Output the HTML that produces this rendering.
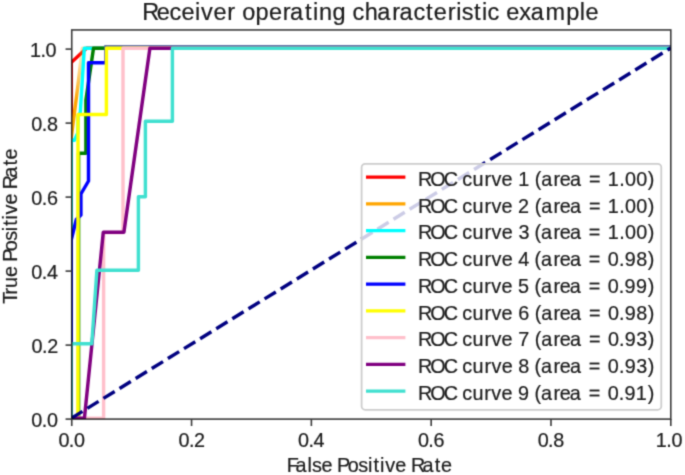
<!DOCTYPE html>
<html><head><meta charset="utf-8"><title>ROC</title><style>
html,body{margin:0;padding:0;background:#fff;}
body{width:685px;height:475px;overflow:hidden;}
svg{display:block;}
text{font-family:"Liberation Sans",sans-serif;}
</style></head><body>
<svg width="685" height="475" viewBox="0 0 685 475">
<defs>
<linearGradient id="og" gradientUnits="userSpaceOnUse" x1="0" y1="100" x2="0" y2="60"><stop offset="0" stop-color="#ffa500"/><stop offset="1" stop-color="#ffa500" stop-opacity="0.3"/></linearGradient>
<clipPath id="ax"><rect x="71.75" y="29.94" width="599.05" height="389.16"/></clipPath>
<filter id="soft" x="0" y="0" width="100%" height="100%" filterUnits="userSpaceOnUse" color-interpolation-filters="sRGB"><feConvolveMatrix order="5" kernelMatrix="0.00001 0.00042 0.00170 0.00042 0.00001 0.00042 0.02740 0.10988 0.02740 0.00042 0.00170 0.10988 0.44065 0.10988 0.00170 0.00042 0.02740 0.10988 0.02740 0.00042 0.00001 0.00042 0.00170 0.00042 0.00001" edgeMode="duplicate"/></filter>
</defs>
<rect x="0" y="0" width="685" height="475" fill="#fff"/>
<g filter="url(#soft)">
<rect x="0" y="0" width="685" height="475" fill="#fff"/>

<g clip-path="url(#ax)" fill="none" stroke-width="3.45" stroke-linejoin="round" stroke-linecap="square">
<polyline points="71.20,418.30 71.20,62.60 86.50,48.20 670.80,48.20" stroke="#ff0000"/>
<polyline points="71.20,418.30 71.20,138.00 77.60,88.00 80.60,62.00 82.30,48.20 670.80,48.20" stroke="url(#og)"/>
<polyline points="71.20,418.30 71.20,140.30 74.40,140.30 77.80,133.00 78.20,116.00 80.30,112.50 84.30,48.20 670.80,48.20" stroke="#00ffff"/>
<polyline points="71.20,418.30 78.60,418.30 78.60,153.30 85.90,153.30 85.90,100.00 93.50,48.20 670.80,48.20" stroke="#008000"/>
<polyline points="71.20,418.30 71.20,240.00 76.30,219.50 80.90,215.00 80.90,194.00 88.50,181.00 88.50,62.80 106.00,62.80 106.00,48.20 670.80,48.20" stroke="#0000ff"/>
<polyline points="106.00,46.70 670.80,46.70" stroke="#6070a8"/>
<polyline points="71.20,418.30 78.00,418.30 78.00,114.50 106.40,114.50 106.40,48.20 670.80,48.20" stroke="#ffff00"/>
<polyline points="71.20,418.30 103.60,418.30 103.60,232.50 123.00,232.50 123.00,48.20 670.80,48.20" stroke="#ffc0cb"/>
<polyline points="71.20,418.30 84.40,418.30 103.30,232.20 123.90,232.20 149.90,48.20 670.80,48.20" stroke="#800080"/>
<polyline points="71.20,418.30 71.20,343.80 91.80,343.80 96.90,270.30 138.40,270.30 138.40,196.70 145.40,196.70 145.40,121.20 172.40,121.20 172.40,48.20 670.80,48.20" stroke="#40e0d0"/>
<line x1="71.2" y1="418.3" x2="670.8" y2="48.0" stroke="#000080" stroke-dasharray="13.22 5.72" stroke-linecap="butt"/>
</g>
<rect x="361.6" y="163.9" width="299.70" height="245.90" rx="3.6" fill="#fff" fill-opacity="0.8" stroke="#cccccc" stroke-width="1.78"/>
<line x1="366.0" y1="177.10" x2="405.4" y2="177.10" stroke="#ff0000" stroke-width="3.45" stroke-linecap="butt"/>
<text x="417.96 430.24 443.70 457.08 462.30 472.49 484.44 491.44 501.60 512.60 518.14 529.54 534.71 541.21 553.55 559.80 569.97 581.71 588.90 602.22 607.77 619.16 625.04 636.19 647.86" y="185.90" font-size="19.8" fill="#1c1c1c" stroke="#1c1c1c" stroke-width="0.22">ROC curve 1 (area = 1.00)</text>
<line x1="366.0" y1="203.85" x2="405.4" y2="203.85" stroke="#ffa500" stroke-width="3.45" stroke-linecap="butt"/>
<text x="417.96 430.24 443.70 457.08 462.30 472.49 484.44 491.44 501.60 512.60 518.01 529.54 534.71 541.21 553.55 559.80 569.97 581.71 588.90 602.22 607.77 619.16 625.04 636.19 647.86" y="212.65" font-size="19.8" fill="#1c1c1c" stroke="#1c1c1c" stroke-width="0.22">ROC curve 2 (area = 1.00)</text>
<line x1="366.0" y1="230.60" x2="405.4" y2="230.60" stroke="#00ffff" stroke-width="3.45" stroke-linecap="butt"/>
<text x="417.97 430.25 443.73 457.12 462.35 472.54 484.50 491.51 501.69 512.69 518.38 529.42 534.60 541.10 553.46 559.71 569.89 581.65 588.84 602.18 607.73 619.13 625.02 636.18 647.86" y="239.40" font-size="19.8" fill="#1c1c1c" stroke="#1c1c1c" stroke-width="0.22">ROC curve 3 (area = 1.00)</text>
<line x1="366.0" y1="257.35" x2="405.4" y2="257.35" stroke="#008000" stroke-width="3.45" stroke-linecap="butt"/>
<text x="417.97 430.25 443.73 457.12 462.35 472.54 484.50 491.51 501.69 512.69 518.35 529.42 534.60 541.10 553.46 559.71 569.89 581.65 588.84 602.18 607.84 618.91 624.74 636.18 647.86" y="266.15" font-size="19.8" fill="#1c1c1c" stroke="#1c1c1c" stroke-width="0.22">ROC curve 4 (area = 0.98)</text>
<line x1="366.0" y1="284.10" x2="405.4" y2="284.10" stroke="#0000ff" stroke-width="3.45" stroke-linecap="butt"/>
<text x="417.96 430.22 443.67 457.04 462.26 472.43 484.37 491.36 501.52 512.51 518.08 529.43 534.60 541.08 553.42 559.66 569.82 581.55 588.73 602.05 607.69 618.74 624.56 635.92 647.86" y="292.90" font-size="19.8" fill="#1c1c1c" stroke="#1c1c1c" stroke-width="0.22">ROC curve 5 (area = 0.99)</text>
<line x1="366.0" y1="310.85" x2="405.4" y2="310.85" stroke="#ffff00" stroke-width="3.45" stroke-linecap="butt"/>
<text x="417.96 430.24 443.70 457.08 462.30 472.49 484.44 491.44 501.60 512.60 518.25 529.54 534.71 541.21 553.55 559.80 569.97 581.71 588.90 602.22 607.88 618.94 624.76 636.19 647.86" y="319.65" font-size="19.8" fill="#1c1c1c" stroke="#1c1c1c" stroke-width="0.22">ROC curve 6 (area = 0.98)</text>
<line x1="366.0" y1="337.60" x2="405.4" y2="337.60" stroke="#ffc0cb" stroke-width="3.45" stroke-linecap="butt"/>
<text x="417.96 430.24 443.70 457.08 462.30 472.49 484.44 491.44 501.60 512.60 518.21 529.54 534.71 541.21 553.55 559.80 569.97 581.71 588.90 602.22 607.88 618.94 624.76 636.22 647.86" y="346.40" font-size="19.8" fill="#1c1c1c" stroke="#1c1c1c" stroke-width="0.22">ROC curve 7 (area = 0.93)</text>
<line x1="366.0" y1="364.35" x2="405.4" y2="364.35" stroke="#800080" stroke-width="3.45" stroke-linecap="butt"/>
<text x="417.97 430.25 443.73 457.12 462.35 472.54 484.50 491.51 501.69 512.69 518.35 529.42 534.60 541.10 553.46 559.71 569.89 581.65 588.84 602.18 607.84 618.91 624.74 636.21 647.86" y="373.15" font-size="19.8" fill="#1c1c1c" stroke="#1c1c1c" stroke-width="0.22">ROC curve 8 (area = 0.93)</text>
<line x1="366.0" y1="391.10" x2="405.4" y2="391.10" stroke="#40e0d0" stroke-width="3.45" stroke-linecap="butt"/>
<text x="417.96 430.22 443.67 457.04 462.26 472.43 484.37 491.36 501.52 512.51 518.09 529.43 534.60 541.08 553.42 559.66 569.82 581.55 588.73 602.05 607.69 618.74 624.56 635.87 647.86" y="399.90" font-size="19.8" fill="#1c1c1c" stroke="#1c1c1c" stroke-width="0.22">ROC curve 9 (area = 0.91)</text>
<rect x="71.75" y="29.94" width="599.05" height="389.16" fill="none" stroke="#000" stroke-opacity="0.77" stroke-width="1.6"/>
<line x1="71.75" y1="419.1" x2="71.75" y2="426.00" stroke="#3a3a3a" stroke-width="1.6"/>
<text x="58.47 68.85 74.02" y="446.50" font-size="19.8" fill="#1c1c1c" stroke="#1c1c1c" stroke-width="0.22">0.0</text>
<line x1="191.56" y1="419.1" x2="191.56" y2="426.00" stroke="#3a3a3a" stroke-width="1.6"/>
<text x="178.38 188.93 194.08" y="446.50" font-size="19.8" fill="#1c1c1c" stroke="#1c1c1c" stroke-width="0.22">0.2</text>
<line x1="311.37" y1="419.1" x2="311.37" y2="426.00" stroke="#3a3a3a" stroke-width="1.6"/>
<text x="298.06 308.38 313.51" y="446.50" font-size="19.8" fill="#1c1c1c" stroke="#1c1c1c" stroke-width="0.22">0.4</text>
<line x1="431.18" y1="419.1" x2="431.18" y2="426.00" stroke="#3a3a3a" stroke-width="1.6"/>
<text x="417.89 428.25 433.40" y="446.50" font-size="19.8" fill="#1c1c1c" stroke="#1c1c1c" stroke-width="0.22">0.6</text>
<line x1="550.99" y1="419.1" x2="550.99" y2="426.00" stroke="#3a3a3a" stroke-width="1.6"/>
<text x="537.71 548.10 553.29" y="446.50" font-size="19.8" fill="#1c1c1c" stroke="#1c1c1c" stroke-width="0.22">0.8</text>
<line x1="670.80" y1="419.1" x2="670.80" y2="426.00" stroke="#3a3a3a" stroke-width="1.6"/>
<text x="655.73 666.34 671.42" y="446.50" font-size="19.8" fill="#1c1c1c" stroke="#1c1c1c" stroke-width="0.22">1.0</text>
<line x1="65.55" y1="419.10" x2="71.75" y2="419.10" stroke="#3a3a3a" stroke-width="1.6"/>
<text x="31.35 41.79 47.04" y="427.40" font-size="19.8" fill="#1c1c1c" stroke="#1c1c1c" stroke-width="0.22">0.0</text>
<line x1="65.55" y1="345.10" x2="71.75" y2="345.10" stroke="#3a3a3a" stroke-width="1.6"/>
<text x="31.45 42.07 47.28" y="353.40" font-size="19.8" fill="#1c1c1c" stroke="#1c1c1c" stroke-width="0.22">0.2</text>
<line x1="65.55" y1="271.10" x2="71.75" y2="271.10" stroke="#3a3a3a" stroke-width="1.6"/>
<text x="31.32 41.71 46.90" y="279.40" font-size="19.8" fill="#1c1c1c" stroke="#1c1c1c" stroke-width="0.22">0.4</text>
<line x1="65.55" y1="197.10" x2="71.75" y2="197.10" stroke="#3a3a3a" stroke-width="1.6"/>
<text x="31.34 41.77 46.98" y="205.40" font-size="19.8" fill="#1c1c1c" stroke="#1c1c1c" stroke-width="0.22">0.6</text>
<line x1="65.55" y1="123.10" x2="71.75" y2="123.10" stroke="#3a3a3a" stroke-width="1.6"/>
<text x="31.36 41.81 47.06" y="131.40" font-size="19.8" fill="#1c1c1c" stroke="#1c1c1c" stroke-width="0.22">0.8</text>
<line x1="65.55" y1="49.10" x2="71.75" y2="49.10" stroke="#3a3a3a" stroke-width="1.6"/>
<text x="29.90 40.45 45.46" y="57.40" font-size="19.8" fill="#1c1c1c" stroke="#1c1c1c" stroke-width="0.22">1.0</text>
<text x="142.17 156.81 169.61 181.54 194.97 201.07 213.41 227.34 235.52 242.31 255.59 268.90 282.83 290.06 305.11 313.08 319.02 332.46 346.05 352.57 364.67 377.20 392.25 399.48 413.40 426.12 433.81 447.74 456.15 461.65 474.03 482.00 487.39 499.37 506.23 519.25 530.74 545.61 566.24 579.82 585.57" y="20.10" font-size="23.5" fill="#1c1c1c" stroke="#1c1c1c" stroke-width="0.22">Receiver operating characteristic example</text>
<text x="286.74 295.61 307.49 312.11 321.58 332.51 336.98 347.84 358.34 368.11 373.59 380.05 385.16 395.24 406.17 410.89 422.58 434.86 441.03" y="471.80" font-size="19.8" fill="#1c1c1c" stroke="#1c1c1c" stroke-width="0.22">False Positive Rate</text>
<text transform="rotate(-90)" x="-303.68 -294.54 -287.97 -276.96 -266.17 -261.84 -251.14 -240.81 -231.16 -225.77 -219.41 -214.43 -204.52 -193.73 -189.16 -177.64 -165.51 -159.50" y="17.20" font-size="19.8" fill="#1c1c1c" stroke="#1c1c1c" stroke-width="0.22">True Positive Rate</text>
</g></svg></body></html>
